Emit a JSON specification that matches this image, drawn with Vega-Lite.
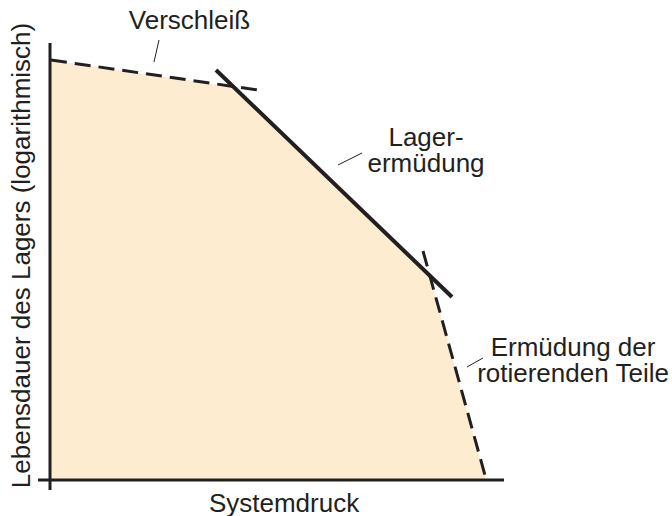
{
  "$schema": "https://vega.github.io/schema/vega-lite/v6.json",
  "width": 466,
  "height": 447,
  "autosize": {"type": "none"},
  "padding": {"left": 38, "top": 43, "right": 168, "bottom": 26},
  "background": "white",
  "config": {"view": {"stroke": null}, "font": "Liberation Sans"},
  "datasets": {
    "region": [
      {"x": 0, "y": 96.11},
      {"x": 40.75, "y": 89.93},
      {"x": 83.48, "y": 47.37},
      {"x": 96.04, "y": 0}
    ],
    "axes": [
      {"x": 0, "y": -2.288, "x2": 0, "y2": 100},
      {"x": -2.643, "y": 0, "x2": 100, "y2": 0}
    ],
    "dashed": [
      {"x": 0.22, "y": 96.11, "x2": 45.81, "y2": 89.24},
      {"x": 82.16, "y": 52.4, "x2": 96.04, "y2": 0.23}
    ],
    "solid": [
      {"x": 36.56, "y": 93.82, "x2": 88.55, "y2": 41.88}
    ],
    "leaders": [
      {"x": 24.01, "y": 100.69, "x2": 22.91, "y2": 95.65},
      {"x": 63.44, "y": 72.08, "x2": 68.72, "y2": 74.83},
      {"x": 91.85, "y": 25.86, "x2": 95.37, "y2": 27.92}
    ],
    "labels": [
      {"x": 30.73, "y": 103.3, "label": "Verschleiß"},
      {"x": 82.82, "y": 76.4, "label": "Lager-\nermüdung"},
      {"x": 115.2, "y": 28.4, "label": "Ermüdung der\nrotierenden Teile"}
    ]
  },
  "encoding": {
    "x": {
      "field": "x",
      "type": "quantitative",
      "scale": {"domain": [-2.643, 100], "nice": false, "zero": false},
      "axis": {
        "title": "Systemdruck",
        "domain": false,
        "ticks": false,
        "labels": false,
        "grid": false,
        "titleFont": "Liberation Sans",
        "titleFontSize": 26,
        "titleFontWeight": "normal",
        "titleColor": "#231f20",
        "titlePadding": 0,
        "titleX": 245.5
      }
    },
    "y": {
      "field": "y",
      "type": "quantitative",
      "scale": {"domain": [-2.288, 100], "nice": false, "zero": false},
      "axis": {
        "title": "Lebensdauer des Lagers (logarithmisch)",
        "domain": false,
        "ticks": false,
        "labels": false,
        "grid": false,
        "titleFont": "Liberation Sans",
        "titleFontSize": 26,
        "titleFontWeight": "normal",
        "titleColor": "#231f20",
        "titlePadding": 4,
        "titleY": 212
      }
    }
  },
  "layer": [
    {
      "data": {"name": "region"},
      "mark": {"type": "area", "color": "#fdecd0"},
      "encoding": {"y2": {"datum": 0}}
    },
    {
      "data": {"name": "axes"},
      "mark": {"type": "rule", "color": "#231f20", "strokeWidth": 3},
      "encoding": {"x2": {"field": "x2"}, "y2": {"field": "y2"}}
    },
    {
      "data": {"name": "dashed"},
      "mark": {"type": "rule", "color": "#231f20", "strokeWidth": 3, "strokeDash": [16, 8]},
      "encoding": {"x2": {"field": "x2"}, "y2": {"field": "y2"}}
    },
    {
      "data": {"name": "solid"},
      "mark": {"type": "rule", "color": "#231f20", "strokeWidth": 4},
      "encoding": {"x2": {"field": "x2"}, "y2": {"field": "y2"}}
    },
    {
      "data": {"name": "leaders"},
      "mark": {"type": "rule", "color": "#231f20", "strokeWidth": 1},
      "encoding": {"x2": {"field": "x2"}, "y2": {"field": "y2"}}
    },
    {
      "data": {"name": "labels"},
      "mark": {"type": "text", "font": "Liberation Sans", "fontSize": 26, "color": "#231f20", "align": "center", "baseline": "alphabetic", "lineBreak": "\n", "lineHeight": 26},
      "encoding": {"text": {"field": "label"}}
    }
  ]
}
